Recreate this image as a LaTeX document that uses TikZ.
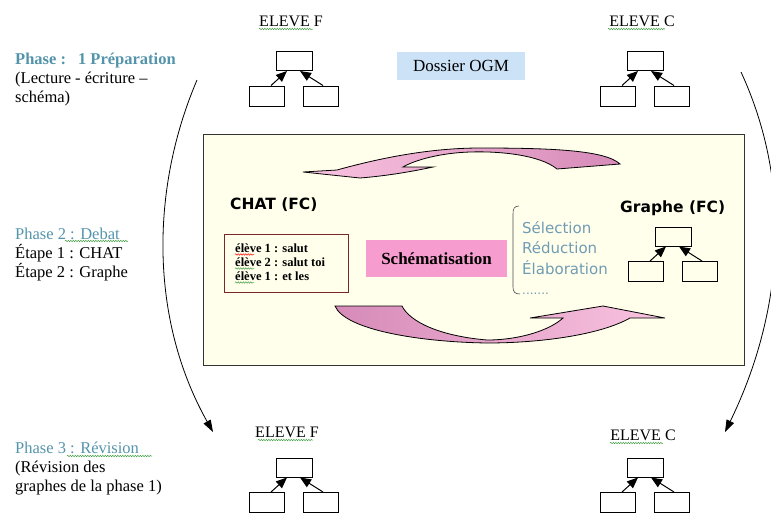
\documentclass[tikz,border=0pt]{standalone}
\usepackage{fontspec}
\setmainfont{Liberation Serif}
\setsansfont{DejaVu Sans}
\usetikzlibrary{arrows.meta,decorations.pathmorphing}

\definecolor{phase}{RGB}{84,148,170}
\definecolor{liste}{RGB}{112,156,180}
\definecolor{fond}{RGB}{255,255,236}
\definecolor{dossier}{RGB}{204,226,246}
\definecolor{schema}{RGB}{246,156,206}
\definecolor{rosec}{RGB}{249,196,224}
\definecolor{rosef}{RGB}{214,138,184}
\definecolor{cadrechat}{RGB}{120,40,40}
\definecolor{vert}{RGB}{70,160,70}

\tikzset{
  boite/.style={draw, line width=1pt, minimum width=35pt, minimum height=20pt, inner sep=0pt},
  fleche/.style={-{Triangle[length=11pt,width=9pt]}, line width=1pt},
  grande/.style={-{Triangle[length=12pt,width=8pt]}, line width=0.8pt},
  texte/.style={font=\rmfamily\fontsize{16.5}{19}\selectfont, align=left, inner sep=0pt, anchor=base west},
  eleve/.style={font=\rmfamily\fontsize{16}{19}\selectfont, inner sep=0pt, anchor=base},
  vague/.style={draw=vert, line width=0.5pt, decorate, decoration={snake, amplitude=0.7pt, segment length=2.5pt}},
}

% petit graphe : nom, x et y de la boite du haut
\newcommand{\arbre}[3]{%
  \node[boite, minimum width=36pt, minimum height=19pt] (#1h) at (#2,#3) {};
  \node[boite] (#1g) at (#2-27,#3+35) {};
  \node[boite] (#1d) at (#2+27,#3+35) {};
  \draw[fleche] ([xshift=4pt]#1g.north) -- ([xshift=-7pt]#1h.south);
  \draw[fleche] ([xshift=2pt]#1d.north) -- ([xshift=6pt]#1h.south);
}

\begin{document}
\begin{tikzpicture}[x=1pt,y=-1pt]
  \clip (0,0) rectangle (771,512);

  % phase 1 (base = derniere ligne)
  \node[texte] (phase1) at (15,102) {\textcolor{phase}{\bfseries Phase :\hspace{12pt}1 Préparation}\\(Lecture - écriture –\\schéma)};
  \node[eleve] (elf1) at (291,26) {ELEVE F};
  \node[eleve] (elc1) at (642,26) {ELEVE C};
  \arbre{f1}{294}{61}
  \arbre{c1}{645}{61}
  \node[fill=dossier, minimum width=128pt, minimum height=28pt, inner sep=0pt, font=\rmfamily\fontsize{17}{20}\selectfont] (ogm) at (461,66) {Dossier OGM};

  % phase 2
  \node[texte] (phase2) at (15,277) {\textcolor{phase}{Phase 2 : Debat}\\Étape 1 : CHAT\\Étape 2 : Graphe};
  \filldraw[fill=fond, draw=black!80, line width=0.9pt] (203,134) rectangle (744,365);

  \path[draw=black, line width=0.8pt, left color=rosec, right color=rosef]
    (303,172) -- (337,170) .. controls (380,158) and (430,148) .. (480,148)
    .. controls (550,148) and (605,150) .. (620,164) -- (557,169)
    .. controls (540,155) and (500,151) .. (470,152)
    .. controls (440,153) and (415,160) .. (403,167) -- (433,167)
    .. controls (410,172) and (385,176) .. (360,178) -- cycle;
  \path[draw=black, line width=0.8pt, left color=rosef, right color=rosec]
    (335,306) -- (402,306) .. controls (410,322) and (440,336) .. (487,340)
    .. controls (520,340) and (550,330) .. (563,318) -- (530,318) -- (603,306)
    -- (665,318) -- (630,318) .. controls (600,335) and (540,343) .. (487,343)
    .. controls (420,342) and (345,330) .. (335,306) -- cycle;

  \node[font=\sffamily\bfseries\fontsize{15.5}{18}\selectfont, anchor=base west, inner sep=0pt] (chat) at (230,209) {CHAT (FC)};
  \node[draw=cadrechat, line width=1pt, minimum width=124pt, minimum height=58pt, inner sep=0pt] (cadrechat) at (286,263) {};
  \node[font=\rmfamily\bfseries\fontsize{12.5}{14}\selectfont, align=left, anchor=base west, inner sep=0pt] (dialogue) at (235,280) {élève 1 : salut\\élève 2 : salut toi\\élève 1 : et les};
  \node[fill=schema, minimum width=141pt, minimum height=37pt, inner sep=0pt, font=\rmfamily\bfseries\fontsize{17}{20}\selectfont] (schema) at (436.5,258.5) {Schématisation};

  \draw[black!70, line width=0.6pt] (519,206) .. controls (514,206) and (513,209) .. (513,214)
    -- (513,287) .. controls (513,292) and (515,294) .. (520,294);
  \node[font=\sffamily\fontsize{15}{20.5}\selectfont, text=liste, align=left, anchor=base west, inner sep=0pt] (etapes) at (522,294.5) {Sélection\\Réduction\\Élaboration\\{\fontsize{12}{20.5}\selectfont .......}};
  \node[font=\sffamily\bfseries\fontsize{15.5}{18}\selectfont, anchor=base west, inner sep=0pt] (graphe) at (620,212) {Graphe (FC)};
  \arbre{g}{673}{236.5}

  % phase 3
  \node[texte] (phase3) at (15,491) {\textcolor{phase}{Phase 3 : Révision}\\(Révision des\\graphes de la phase 1)};
  \node[eleve] (elf3) at (287,437) {ELEVE F};
  \node[eleve] (elc3) at (643,440) {ELEVE C};
  \arbre{f3}{294}{467.5}
  \arbre{c3}{645}{467.5}

  % fleches entre les phases
  \coordinate (d1) at (197,80);
  \coordinate (a1) at (213,432);
  \coordinate (d2) at (741,72);
  \coordinate (a2) at (725,432);
  \draw[grande] (d1) .. controls (150,190) and (150,320) .. (a1);
  \draw[grande] (d2) .. controls (800,200) and (775,330) .. (a2);

  % soulignes du correcteur
  \draw[vague] (259,29) -- (313,29);
  \draw[vague] (608,29) -- (665,29);
  \draw[vague] (258,440) -- (313,440);
  \draw[vague] (610,443) -- (663,443);
  \draw[vague] (65,241) -- (128,241);
  \draw[vague] (67,456) -- (152,456);
  \draw[vague, draw=red] (235,254.5) -- (254,254.5);
  \draw[vague] (235,268.5) -- (254,268.5);
  \draw[vague] (235,282.5) -- (254,282.5);
\end{tikzpicture}
\end{document}
